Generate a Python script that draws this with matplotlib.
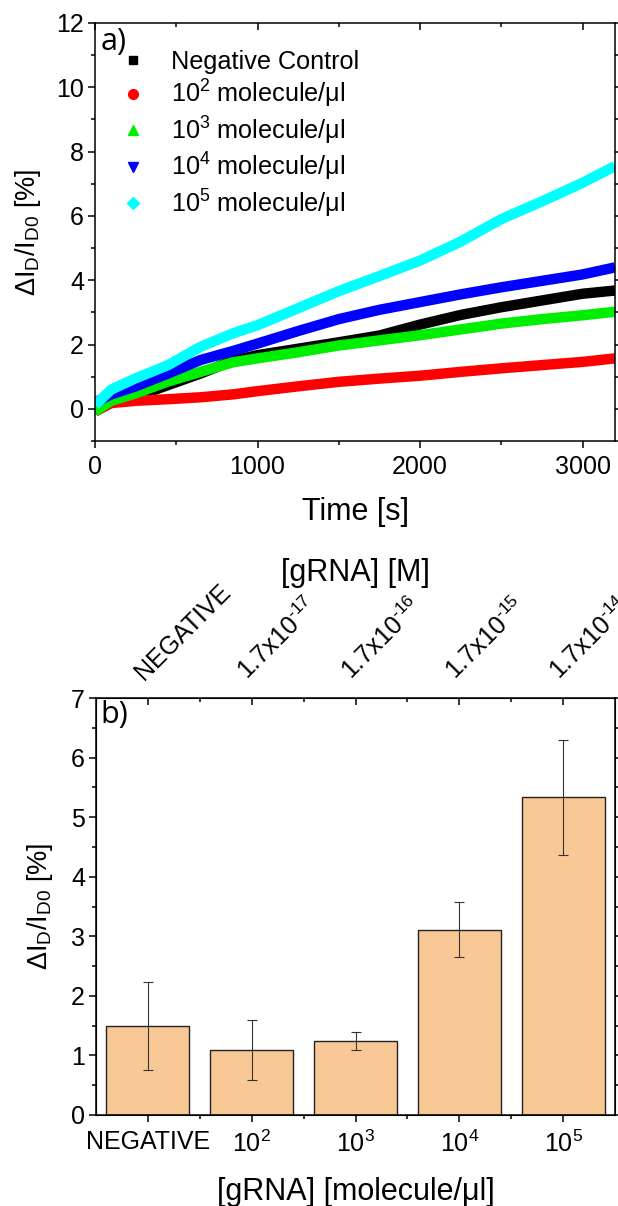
import matplotlib
matplotlib.use("Agg")
import matplotlib.pyplot as plt
from matplotlib.lines import Line2D
from matplotlib.ticker import MultipleLocator
from matplotlib.transforms import ScaledTranslation

plt.rcParams['font.family'] = ['Liberation Sans', 'DejaVu Sans']
plt.rcParams['mathtext.fontset'] = 'custom'
plt.rcParams['mathtext.rm'] = 'Liberation Sans'
plt.rcParams['mathtext.it'] = 'Liberation Sans:italic'
plt.rcParams['mathtext.default'] = 'regular'

# panel a: response over time
time_s = [0, 100, 250, 450, 650, 850, 1000, 1250, 1500, 1750, 2000, 2250, 2500, 2750, 3000, 3200]
neg_ctrl = [-0.08, 0.2, 0.38, 0.74, 1.1, 1.5, 1.67, 1.87, 2.07, 2.28, 2.62, 2.92, 3.16, 3.37, 3.58, 3.68]
conc_1e2 = [-0.08, 0.18, 0.25, 0.3, 0.36, 0.45, 0.55, 0.7, 0.84, 0.94, 1.03, 1.15, 1.26, 1.36, 1.46, 1.57]
conc_1e3 = [-0.08, 0.25, 0.48, 0.85, 1.15, 1.45, 1.57, 1.76, 1.97, 2.13, 2.29, 2.47, 2.65, 2.79, 2.91, 3.02]
conc_1e4 = [0.2, 0.45, 0.7, 1.1, 1.52, 1.8, 2.03, 2.42, 2.79, 3.08, 3.32, 3.56, 3.78, 3.98, 4.18, 4.4]
conc_1e5 = [0.12, 0.6, 0.95, 1.36, 1.93, 2.35, 2.6, 3.13, 3.66, 4.13, 4.61, 5.2, 5.9, 6.45, 7.03, 7.55]

series_labels = ['Negative Control', '10$^{2}$ molecule/\u03bcl', '10$^{3}$ molecule/\u03bcl',
                 '10$^{4}$ molecule/\u03bcl', '10$^{5}$ molecule/\u03bcl']
series_colors = ['black', '#ff0000', '#00ee00', '#0000ff', '#00ffff']
series_markers = ['s', 'o', '^', 'v', 'D']

# panel b: mean response per concentration
bar_labels = ['NEGATIVE', '10$^{2}$', '10$^{3}$', '10$^{4}$', '10$^{5}$']
molar_labels = ['NEGATIVE', r'1.7x10$^{\text{-}17}$', r'1.7x10$^{\text{-}16}$',
                r'1.7x10$^{\text{-}15}$', r'1.7x10$^{\text{-}14}$']
bar_means = [1.49, 1.09, 1.24, 3.11, 5.33]
bar_errs = [0.74, 0.5, 0.15, 0.46, 0.97]

fig = plt.figure(figsize=(6.18, 12.06), dpi=100)


def style_axis(ax):
    for s in ax.spines.values():
        s.set_linewidth(1.1)
    ax.tick_params(which='both', width=1.1, labelsize=18)
    ax.tick_params(which='major', length=5)
    ax.tick_params(which='minor', length=3)
    ax.tick_params(axis='x', which='both', direction='out', pad=5)
    ax.tick_params(axis='y', which='both', direction='out', pad=3)


# ---- panel a ----
ax1 = fig.add_axes([95 / 618, 1 - 441 / 1206, 520 / 618, 418 / 1206])
series = [neg_ctrl, conc_1e2, conc_1e3, conc_1e4, conc_1e5]
for vals, col in zip(series, series_colors):
    ax1.plot(time_s, vals, color=col, lw=7.5, solid_capstyle='butt', solid_joinstyle='round')
ax1.set_xlim(0, 3200)
ax1.set_ylim(-1, 12)
ax1.xaxis.set_major_locator(MultipleLocator(1000))
ax1.xaxis.set_minor_locator(MultipleLocator(500))
ax1.yaxis.set_major_locator(MultipleLocator(2))
ax1.yaxis.set_minor_locator(MultipleLocator(1))
style_axis(ax1)
ax1.tick_params(which='both', top=True, right=True)
ax1.set_xlabel('Time [s]', fontsize=22, va='top')
ax1.xaxis.set_label_coords(0.5, -0.134)
ax1.set_ylabel('\u0394I$_{D}$/I$_{D0}$ [%]', fontsize=19.5)
ax1.yaxis.set_label_coords(-0.10, 0.5)

# top/right ticks point inward
for t in ax1.xaxis.get_ticklines(minor=False)[1::2] + ax1.xaxis.get_ticklines(minor=True)[1::2]:
    t.set_marker(3)
for t in ax1.yaxis.get_ticklines(minor=False)[1::2] + ax1.yaxis.get_ticklines(minor=True)[1::2]:
    t.set_marker(1)

handles = [Line2D([], [], ls='none', marker=m, color=c, markersize=ms)
           for m, c, ms in zip(series_markers, series_colors, [5.5, 7, 7, 7, 6.5])]
ax1.legend(handles, series_labels, loc='upper left', bbox_to_anchor=(0.048, 0.936),
           frameon=False, fontsize=18.2, handlelength=1.0, handletextpad=1.0,
           borderpad=0, borderaxespad=0, labelspacing=0.17)
ax1.text(0.01, 0.99, 'a)', transform=ax1.transAxes, fontsize=22, va='top', ha='left',
         family=['Open Sans', 'DejaVu Sans'])

# ---- panel b ----
ax2 = fig.add_axes([96 / 618, 1 - 1115 / 1206, 519 / 618, 417 / 1206])
pos = list(range(len(bar_means)))
ax2.bar(pos, bar_means, width=0.8, color='#f9c897', edgecolor='#222222', linewidth=1.0, zorder=2)
ax2.errorbar(pos, bar_means, yerr=bar_errs, fmt='none', ecolor='#333333', elinewidth=0.8,
             capsize=3.5, capthick=0.8, zorder=3)
ax2.set_xlim(-0.5, 4.5)
ax2.set_ylim(0, 7)
ax2.set_xticks(pos)
ax2.set_xticklabels(bar_labels)
ax2.set_xticks([p + 0.5 for p in pos[:-1]], minor=True)
ax2.yaxis.set_major_locator(MultipleLocator(1))
ax2.yaxis.set_minor_locator(MultipleLocator(0.5))
style_axis(ax2)
ax2.tick_params(axis='x', pad=6)
ax2.tick_params(axis='y', which='both', right=True)
for t in ax2.yaxis.get_ticklines(minor=False)[1::2] + ax2.yaxis.get_ticklines(minor=True)[1::2]:
    t.set_marker(1)
ax2.set_xlabel('[gRNA] [molecule/\u03bcl]', fontsize=22, va='top')
ax2.xaxis.set_label_coords(0.5, -0.149)
ax2.set_ylabel('\u0394I$_{D}$/I$_{D0}$ [%]', fontsize=19.5)
ax2.yaxis.set_label_coords(-0.079, 0.5)
ax2.text(0.008, 0.995, 'b)', transform=ax2.transAxes, fontsize=22, va='top', ha='left',
         family=['Open Sans', 'DejaVu Sans'])

# molar concentration scale on top
ax3 = ax2.twiny()
ax3.set_xlim(ax2.get_xlim())
ax3.set_xticks(pos)
ax3.set_xticks([p + 0.5 for p in pos[:-1]], minor=True)
ax3.set_xticklabels(molar_labels, fontsize=18, rotation=45, ha='left', va='baseline',
                    rotation_mode='anchor')
ax3.tick_params(axis='x', which='both', direction='in', width=1.1, pad=12.5)
ax3.tick_params(axis='x', which='major', length=5)
ax3.tick_params(axis='x', which='minor', length=3)
shift = ScaledTranslation(-4 / 100, 0, fig.dpi_scale_trans)
for lab in ax3.get_xticklabels():
    lab.set_transform(lab.get_transform() + shift)
ax3.set_xlabel('[gRNA] [M]', fontsize=22, va='bottom')
ax3.xaxis.set_label_coords(0.5, 1.264)

fig.savefig('out.png', dpi=100)
